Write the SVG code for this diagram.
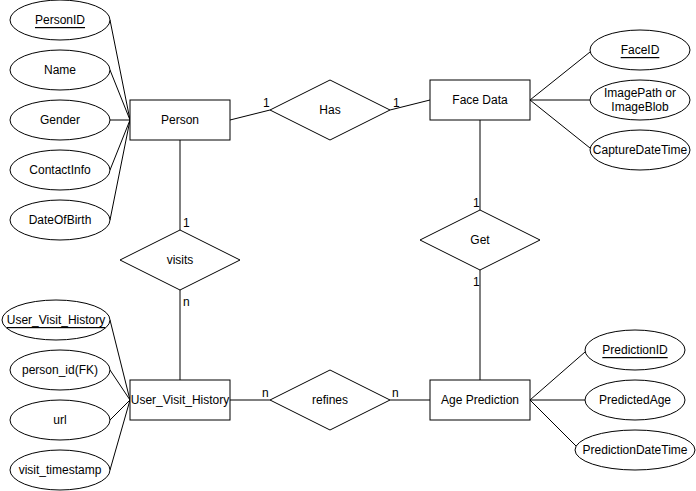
<svg xmlns="http://www.w3.org/2000/svg" width="696" height="491" viewBox="0 0 696 491">
  <style>
    .shape { fill: #ffffff; stroke: #000000; stroke-width: 1; }
    .edge { fill: none; stroke: #000000; stroke-width: 1; }
    text { font-family: "Liberation Sans", Arial, sans-serif; font-size: 12px; fill: #000000; }
    .c { text-anchor: middle; dominant-baseline: central; }
    .key { text-decoration: underline; }
    .card { font-size: 12px; }
  </style>
  <rect width="696" height="491" fill="#ffffff"/>

  <!-- connectors -->
  <g id="connectors">
    <!-- Person attributes -->
    <line class="edge" x1="110" y1="20" x2="130" y2="120"/>
    <line class="edge" x1="110" y1="70" x2="130" y2="120"/>
    <line class="edge" x1="110" y1="120" x2="130" y2="120"/>
    <line class="edge" x1="110" y1="170" x2="130" y2="120"/>
    <line class="edge" x1="110" y1="220" x2="130" y2="120"/>
    <!-- Face Data attributes -->
    <line class="edge" x1="530" y1="100" x2="590" y2="52"/>
    <line class="edge" x1="530" y1="100" x2="590" y2="100"/>
    <line class="edge" x1="530" y1="100" x2="590" y2="148"/>
    <!-- User_Visit_History attributes -->
    <line class="edge" x1="110" y1="320" x2="130" y2="400"/>
    <line class="edge" x1="110" y1="370" x2="130" y2="400"/>
    <line class="edge" x1="110" y1="420" x2="130" y2="400"/>
    <line class="edge" x1="110" y1="470" x2="130" y2="400"/>
    <!-- Age Prediction attributes -->
    <line class="edge" x1="530" y1="400" x2="585" y2="352"/>
    <line class="edge" x1="530" y1="400" x2="585" y2="400"/>
    <line class="edge" x1="530" y1="400" x2="576" y2="446"/>
    <!-- relationships -->
    <line class="edge" x1="230" y1="120" x2="270" y2="110"/>
    <line class="edge" x1="390" y1="110" x2="430" y2="100"/>
    <line class="edge" x1="180" y1="140" x2="180" y2="230"/>
    <line class="edge" x1="180" y1="290" x2="180" y2="380"/>
    <line class="edge" x1="480" y1="120" x2="480" y2="210"/>
    <line class="edge" x1="480" y1="270" x2="480" y2="380"/>
    <line class="edge" x1="230" y1="400" x2="270" y2="400"/>
    <line class="edge" x1="390" y1="400" x2="430" y2="400"/>
    <!-- cardinalities -->
    <text class="card" x="263" y="107">1</text>
    <text class="card" x="393" y="107">1</text>
    <text class="card" x="183" y="227">1</text>
    <text class="card" x="183" y="306">n</text>
    <text class="card" x="473" y="207">1</text>
    <text class="card" x="473" y="286">1</text>
    <text class="card" x="262" y="397">n</text>
    <text class="card" x="392" y="397">n</text>
  </g>

  <!-- entities -->
  <g id="person">
    <rect class="shape" x="130" y="100" width="100" height="40"/>
    <text class="c" x="180" y="120">Person</text>
  </g>
  <g id="face-data">
    <rect class="shape" x="430" y="80" width="100" height="40"/>
    <text class="c" x="480" y="100">Face Data</text>
  </g>
  <g id="user-visit-history">
    <rect class="shape" x="130" y="380" width="100" height="40"/>
    <text class="c" x="180" y="400">User_Visit_History</text>
  </g>
  <g id="age-prediction">
    <rect class="shape" x="430" y="380" width="100" height="40"/>
    <text class="c" x="480" y="400">Age Prediction</text>
  </g>

  <!-- relationships -->
  <g id="rel-has">
    <polygon class="shape" points="270,110 330,80 390,110 330,140"/>
    <text class="c" x="330" y="110">Has</text>
  </g>
  <g id="rel-visits">
    <polygon class="shape" points="120,260 180,230 240,260 180,290"/>
    <text class="c" x="180" y="260">visits</text>
  </g>
  <g id="rel-get">
    <polygon class="shape" points="420,240 480,210 540,240 480,270"/>
    <text class="c" x="480" y="240">Get</text>
  </g>
  <g id="rel-refines">
    <polygon class="shape" points="270,400 330,370 390,400 330,430"/>
    <text class="c" x="330" y="400">refines</text>
  </g>

  <!-- Person attributes -->
  <g id="attr-personid">
    <ellipse class="shape" cx="60" cy="20" rx="50" ry="20"/>
    <text class="c key" x="60" y="20">PersonID</text>
  </g>
  <g id="attr-name">
    <ellipse class="shape" cx="60" cy="70" rx="50" ry="20"/>
    <text class="c" x="60" y="70">Name</text>
  </g>
  <g id="attr-gender">
    <ellipse class="shape" cx="60" cy="120" rx="50" ry="20"/>
    <text class="c" x="60" y="120">Gender</text>
  </g>
  <g id="attr-contactinfo">
    <ellipse class="shape" cx="60" cy="170" rx="50" ry="20"/>
    <text class="c" x="60" y="170">ContactInfo</text>
  </g>
  <g id="attr-dateofbirth">
    <ellipse class="shape" cx="60" cy="220" rx="50" ry="20"/>
    <text class="c" x="60" y="220">DateOfBirth</text>
  </g>

  <!-- Face Data attributes -->
  <g id="attr-faceid">
    <ellipse class="shape" cx="640" cy="50" rx="50" ry="20"/>
    <text class="c key" x="640" y="50">FaceID</text>
  </g>
  <g id="attr-imagepath">
    <ellipse class="shape" cx="640" cy="100" rx="50" ry="20"/>
    <text class="c" x="640" y="93">ImagePath or</text>
    <text class="c" x="640" y="107">ImageBlob</text>
  </g>
  <g id="attr-capturedatetime">
    <ellipse class="shape" cx="640" cy="150" rx="50" ry="20"/>
    <text class="c" x="640" y="150">CaptureDateTime</text>
  </g>

  <!-- User_Visit_History attributes -->
  <g id="attr-uvh-key">
    <ellipse class="shape" cx="56" cy="320" rx="54" ry="20"/>
    <text class="c key" x="56" y="320">User_Visit_History</text>
  </g>
  <g id="attr-person-id-fk">
    <ellipse class="shape" cx="60" cy="370" rx="50" ry="20"/>
    <text class="c" x="60" y="370">person_id(FK)</text>
  </g>
  <g id="attr-url">
    <ellipse class="shape" cx="60" cy="420" rx="50" ry="20"/>
    <text class="c" x="60" y="420">url</text>
  </g>
  <g id="attr-visit-timestamp">
    <ellipse class="shape" cx="60" cy="470" rx="50" ry="20"/>
    <text class="c" x="60" y="470">visit_timestamp</text>
  </g>

  <!-- Age Prediction attributes -->
  <g id="attr-predictionid">
    <ellipse class="shape" cx="635" cy="350" rx="50" ry="20"/>
    <text class="c key" x="635" y="350">PredictionID</text>
  </g>
  <g id="attr-predictedage">
    <ellipse class="shape" cx="635" cy="400" rx="50" ry="20"/>
    <text class="c" x="635" y="400">PredictedAge</text>
  </g>
  <g id="attr-predictiondatetime">
    <ellipse class="shape" cx="635" cy="450" rx="60" ry="20"/>
    <text class="c" x="635" y="450">PredictionDateTime</text>
  </g>
</svg>
